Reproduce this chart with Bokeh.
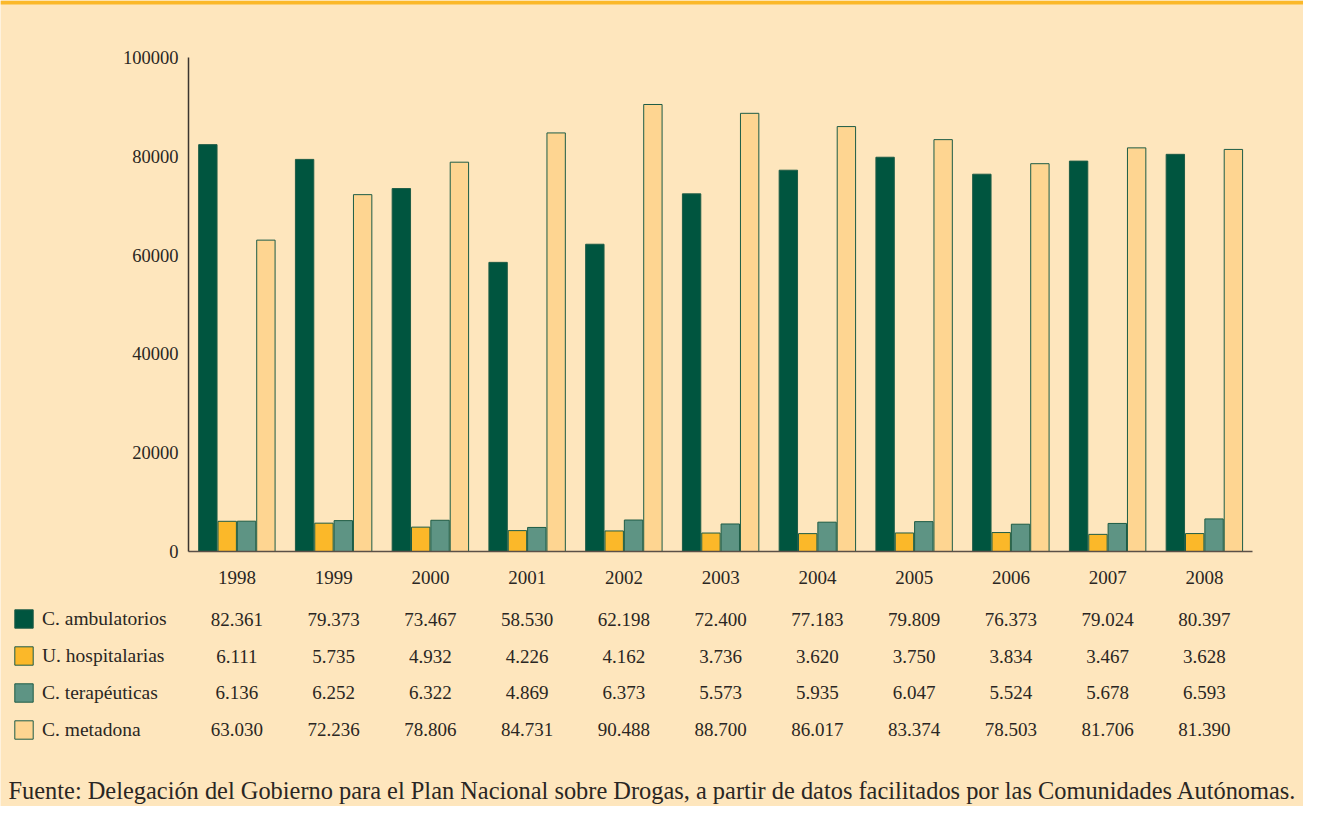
from bokeh.plotting import figure
from bokeh.models import (ColumnDataSource, Range1d, LinearAxis, LabelSet, Label, Legend, LegendItem,
                          FixedTicker, BasicTickFormatter, BoxAnnotation)
from bokeh.transform import dodge
from bokeh.embed import file_html
from bokeh.resources import INLINE

# ---------------- data ----------------
years = ["1998", "1999", "2000", "2001", "2002", "2003", "2004", "2005", "2006", "2007", "2008"]
ambulatorios = [82361, 79373, 73467, 58530, 62198, 72400, 77183, 79809, 76373, 79024, 80397]
hospitalarias = [6111, 5735, 4932, 4226, 4162, 3736, 3620, 3750, 3834, 3467, 3628]
terapeuticas = [6136, 6252, 6322, 4869, 6373, 5573, 5935, 6047, 5524, 5678, 6593]
metadona = [63030, 72236, 78806, 84731, 90488, 88700, 86017, 83374, 78503, 81706, 81390]
series_names = ["C. ambulatorios", "U. hospitalarias", "C. terapéuticas", "C. metadona"]
y_ticks = [0, 20000, 40000, 60000, 80000, 100000]
source_note = ("Fuente: Delegación del Gobierno para el Plan Nacional sobre Drogas, "
               "a partir de datos facilitados por las Comunidades Autónomas.")

# ---------------- style / layout ----------------
BG = "#FEE6BD"
FONT = "Liberation Serif"
TXT = "#2A2623"
EDGE = "#1D5C46"
bar_fill = ["#00553F", "#FBB829", "#5E9484", "#FED591"]
offsets = [-0.3, -0.1, 0.1, 0.3]

W, H = 1303, 806
AX_X, AX_Y, TOP_Y = 188, 551, 57      # axis origin and top of value axis (pixels)
CAT_W = 96.75                          # pixels per category
YMAX = 100000
py = (AX_Y - TOP_Y) / YMAX             # pixels per unit

p = figure(x_range=Range1d(-AX_X / CAT_W, (W - AX_X) / CAT_W),
           y_range=Range1d(-(H - AX_Y) / py, AX_Y / py),
           width=W, height=H, output_backend="svg", toolbar_location=None,
           x_axis_location=None, y_axis_location=None, min_border=0,
           background_fill_color=BG, border_fill_color=BG, outline_line_color=None)
p.grid.visible = False
# pixel-based helper ranges (origin at the axis corner) for the table texts
p.extra_y_ranges = {"tbl": Range1d(-(H - AX_Y), AX_Y)}
p.extra_x_ranges = {"px": Range1d(-AX_X, W - AX_X)}

xc = [i + 0.5 for i in range(len(years))]

yaxis = LinearAxis(fixed_location=0, bounds=(0, YMAX),
                   ticker=FixedTicker(ticks=y_ticks),
                   formatter=BasicTickFormatter(use_scientific=False),
                   axis_line_color="#3B3530", axis_line_width=1.5,
                   major_tick_line_color=None, minor_tick_line_color=None,
                   major_tick_out=0, major_tick_in=0,
                   major_label_text_font=FONT, major_label_text_font_size="18.5px",
                   major_label_text_color=TXT, major_label_standoff=10)
p.add_layout(yaxis, "left")
xaxis = LinearAxis(fixed_location=0, bounds=(0, len(years)),
                   ticker=FixedTicker(ticks=xc, minor_ticks=[]),
                   major_label_overrides={x: y for x, y in zip(xc, years)},
                   axis_line_color="#5B5048", axis_line_width=1.5,
                   major_tick_line_color=None, minor_tick_line_color=None,
                   major_tick_out=0, major_tick_in=0,
                   major_label_text_font=FONT, major_label_text_font_size="19px",
                   major_label_text_color=TXT, major_label_standoff=19)
p.add_layout(xaxis, "below")

src = ColumnDataSource(dict(xc=xc, year=years, amb=ambulatorios, hosp=hospitalarias,
                            ter=terapeuticas, met=metadona))
cols = ["amb", "hosp", "ter", "met"]
bars = []
for col, off, fc in zip(cols, offsets, bar_fill):
    bars.append(p.vbar(x=dodge("xc", off), top=col, width=0.19, source=src,
                       fill_color=fc, line_color=EDGE, line_width=1))

# ---------------- table ----------------
row_y = [-68, -105, -141, -178]
all_series = [ambulatorios, hospitalarias, terapeuticas, metadona]
for vals, ry in zip(all_series, row_y):
    tsrc = ColumnDataSource(dict(xc=xc, txt=[f"{v:,}".replace(",", ".") for v in vals]))
    p.add_layout(LabelSet(x="xc", y=ry, y_range_name="tbl", text="txt", source=tsrc,
                          text_align="center", text_baseline="middle",
                          text_font=FONT, text_font_size="19px", text_color=TXT))

items = [LegendItem(label=name, renderers=[r]) for name, r in zip(series_names, bars)]
legend = Legend(items=items, location=(12, 65), orientation="vertical",
                glyph_width=23, glyph_height=23, label_height=18, label_standoff=7,
                spacing=14, padding=0, margin=0,
                label_text_font=FONT, label_text_font_size="19.5px", label_text_color=TXT,
                border_line_color=None, background_fill_alpha=0)
p.add_layout(legend, "center")

p.add_layout(Label(x=8 - AX_X, y=AX_Y - 790, x_range_name="px", y_range_name="tbl", text=source_note,
                   text_baseline="middle", text_font=FONT, text_font_size="24.4px", text_color=TXT))

p.add_layout(BoxAnnotation(left=-AX_X, right=W - AX_X, top=AX_Y, bottom=AX_Y - 4,
                           x_range_name="px", y_range_name="tbl",
                           fill_color="#FBB829", fill_alpha=1, line_color=None))

open("out.html", "w").write(file_html(p, INLINE))
